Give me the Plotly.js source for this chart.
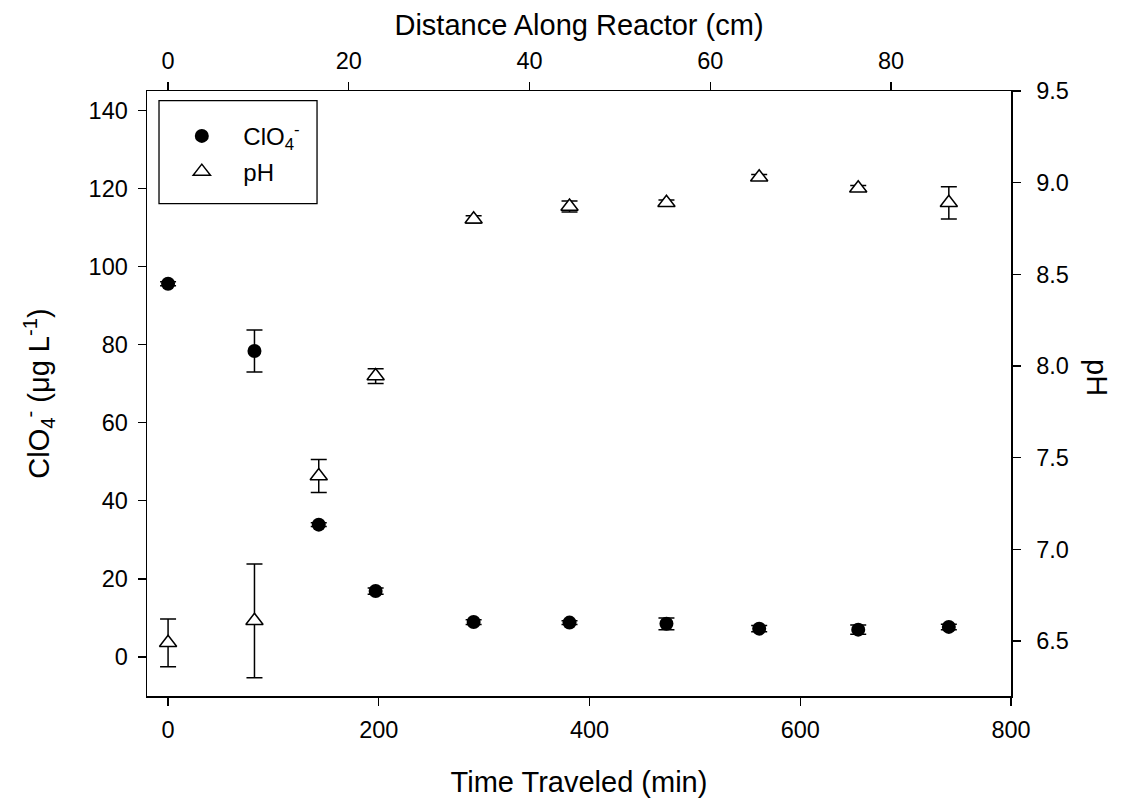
<!DOCTYPE html>
<html><head><meta charset="utf-8">
<script src="https://cdn.plot.ly/plotly-3.0.1.min.js"></script>
<style>html,body{margin:0;padding:0;background:#fff}#chart{width:1125px;height:803px}</style>
</head><body><div id="chart"></div>
<script>
const timeMin = [0, 82, 143, 197, 290, 381, 473, 561, 655, 741];
const clo4 = [95.6, 78.4, 33.9, 16.9, 8.95, 8.8, 8.5, 7.25, 7.0, 7.7];
const clo4Err = [0.5, 5.4, 0.5, 0.8, 0.6, 0.5, 1.5, 0.8, 1.2, 0.7];
const pH = [6.49, 6.61, 7.40, 7.945, 8.80, 8.87, 8.89, 9.03, 8.97, 8.89];
const pHErr = [0.13, 0.31, 0.09, 0.04, 0.02, 0.03, 0.015, 0.015, 0.015, 0.088];
const timeTicks = [0, 200, 400, 600, 800];
const distTicks = [0, 20, 40, 60, 80];
const clo4Ticks = [0, 20, 40, 60, 80, 100, 120, 140];
const pHTicks = [6.5, 7.0, 7.5, 8.0, 8.5, 9.0, 9.5];

const FONT = 'Arial, "Liberation Sans", sans-serif';
const TICKF = {family: FONT, size: 23.5, color: '#000'};
const TITLEF = {family: FONT, size: 29, color: '#000'};
const LEGF = {family: FONT, size: 24, color: '#000'};

const traces = [
  {x: timeMin, y: clo4, mode: 'markers', name: 'ClO<sub>4</sub><sup>-</sup>', legend: 'legend', showlegend: true,
   marker: {symbol: 'circle', size: 14, color: '#000'},
   error_y: {type: 'data', array: clo4Err, color: '#000', thickness: 1.5, width: 8},
   xaxis: 'x', yaxis: 'y', hoverinfo: 'x+y'},
  {x: timeMin, y: pH, mode: 'markers', name: 'pH', legend: 'legend2', showlegend: true,
   marker: {symbol: 'triangle-up', size: 15, color: '#fff', line: {color: '#000', width: 1.5}},
   error_y: {type: 'data', array: pHErr, color: '#000', thickness: 1.5, width: 8},
   xaxis: 'x', yaxis: 'y2', hoverinfo: 'x+y'},
  {x: [], y: [], mode: 'markers', xaxis: 'x2', yaxis: 'y', showlegend: false, hoverinfo: 'skip'}
];

const axisCommon = {
  showgrid: false, zeroline: false, showline: true, linecolor: '#000', linewidth: 1.5,
  ticks: 'outside', ticklen: 8, tickwidth: 1.3, tickcolor: '#000', tickfont: TICKF
};

const layout = {
  width: 1125, height: 803,
  showlegend: true,
  margin: {l: 147, r: 114, t: 91, b: 107, pad: 0},
  paper_bgcolor: '#fff', plot_bgcolor: '#fff',
  font: {family: FONT, color: '#000'},
  xaxis: Object.assign({}, axisCommon, {
    range: [-20, 800], tickmode: 'array', tickvals: timeTicks, ticktext: timeTicks.map(String),
    ticklabelstandoff: 4,
    title: {text: 'Time Traveled (min)', font: TITLEF, standoff: 30}, anchor: 'y'
  }),
  xaxis2: Object.assign({}, axisCommon, {
    range: [-2.33, 93.27], overlaying: 'x', side: 'top', anchor: 'y',
    tickmode: 'array', tickvals: distTicks, ticktext: distTicks.map(String),
    ticklabelstandoff: 3,
    title: {text: 'Distance Along Reactor (cm)', font: TITLEF, standoff: 4}
  }),
  yaxis: Object.assign({}, axisCommon, {
    range: [-10, 145], tickmode: 'array', tickvals: clo4Ticks, ticktext: clo4Ticks.map(String),
    ticklabelstandoff: 5,
    title: {text: 'ClO<sub>4</sub><sup>-</sup> (μg L<sup>-1</sup>)', font: TITLEF, standoff: 30}, anchor: 'x'
  }),
  yaxis2: Object.assign({}, axisCommon, {
    range: [6.2, 9.5], overlaying: 'y', side: 'right', anchor: 'x',
    ticklabelstandoff: 11,
    tickmode: 'array', tickvals: pHTicks, ticktext: pHTicks.map(v => v.toFixed(1))
  }),
  legend: {x: 0.0154, xanchor: 'left', y: 0.9251, yanchor: 'middle', bgcolor: 'rgba(0,0,0,0)',
           borderwidth: 0, itemwidth: 73, font: LEGF},
  legend2: {x: 0.0154, xanchor: 'left', y: 0.8661, yanchor: 'middle', bgcolor: 'rgba(0,0,0,0)',
           borderwidth: 0, itemwidth: 73, font: LEGF},
  shapes: [
    {type: 'rect', xref: 'paper', yref: 'paper', x0: 0.0139, x1: 0.1968, y0: 0.8139, y1: 0.9841,
     line: {color: '#000', width: 1.3}, fillcolor: 'rgba(0,0,0,0)'}
  ],
  annotations: [
    {text: 'pH', textangle: 90, xref: 'paper', yref: 'paper', x: (1097 - 147) / 864, y: (696 - 377) / 605,
     xanchor: 'center', yanchor: 'middle', showarrow: false, font: TITLEF}
  ]
};

Plotly.newPlot('chart', traces, layout, {displayModeBar: false, staticPlot: true});
</script>
</body></html>
